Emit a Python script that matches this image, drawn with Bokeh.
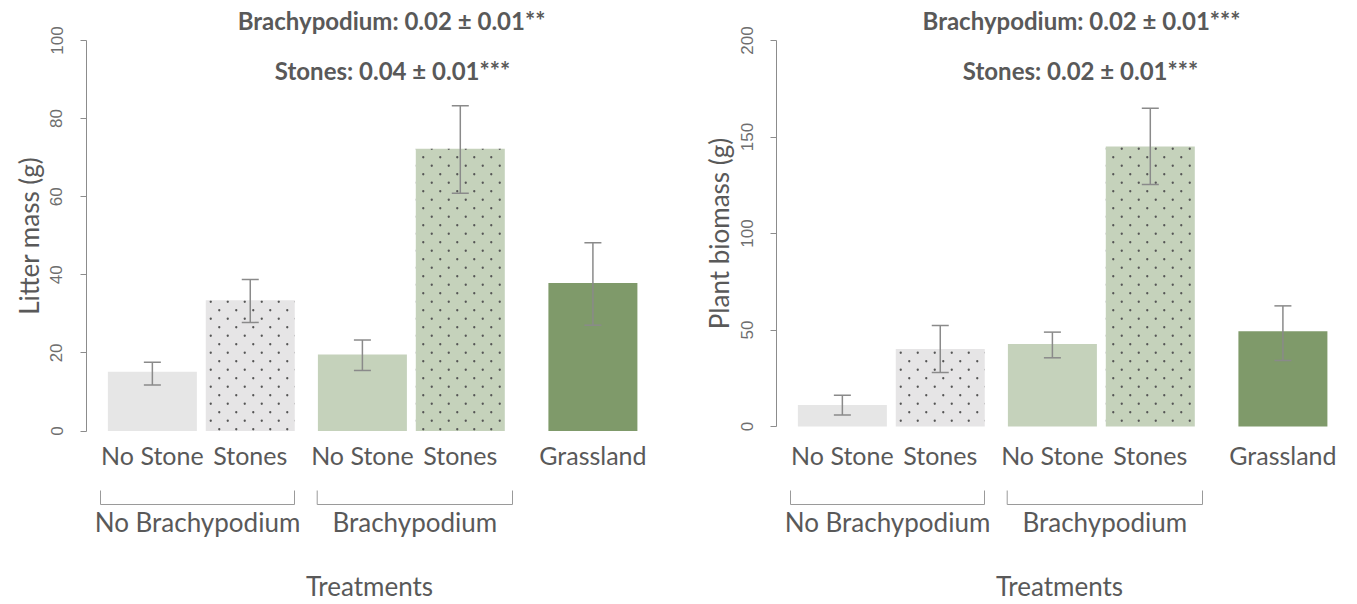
import math
import base64
from bokeh.plotting import figure
from bokeh.layouts import row
from bokeh.models import (Range1d, LinearAxis, SingleIntervalTicker, Whisker, TeeHead,
                          ColumnDataSource, ImageURLTexture)
from bokeh.embed import file_html
from bokeh.resources import INLINE
from bokeh.core.properties import value

# ---------------- data ----------------
treatments = ["No Stone", "Stones", "No Stone", "Stones", "Grassland"]
groups = ["No Brachypodium", "Brachypodium"]
x_title = "Treatments"

litter_mean = [15.2, 33.5, 19.6, 72.3, 37.9]
litter_lo = [11.8, 27.8, 15.5, 60.9, 27.1]
litter_hi = [17.6, 38.8, 23.3, 83.3, 48.2]
litter_notes = ["Brachypodium: 0.02 ± 0.01**", "Stones: 0.04 ± 0.01***"]

biomass_mean = [11.2, 40.2, 42.8, 145.1, 49.4]
biomass_lo = [6.0, 28.0, 35.6, 125.4, 34.2]
biomass_hi = [16.2, 52.3, 48.9, 164.9, 62.5]
biomass_notes = ["Brachypodium: 0.02 ± 0.01***", "Stones: 0.02 ± 0.01***"]

# ---------------- style / layout ----------------
fill_colors = ["#e6e6e6", "#e6e5e6", "#c5d2bb", "#c5d2bb", "#7f9a6a"]
hatches = [" ", "dots", " ", "dots", " "]
TXT = "#595959"
AXC = "#8c8c8c"
FONT = "Lato"

_tile = ("<svg xmlns='http://www.w3.org/2000/svg' width='17' height='17'>"
         "<circle cx='4.25' cy='4.25' r='1.15' fill='#555555'/>"
         "<circle cx='12.75' cy='12.75' r='1.15' fill='#555555'/></svg>")
DOT_URL = "data:image/svg+xml;base64," + base64.b64encode(_tile.encode()).decode()

BAR_PX = 89.0                      # pixels per x unit (one bar width)
gaps = [0.24, 0.10, 0.26, 0.10, 0.49]
lefts = []
acc = 0.0
for g in gaps:
    acc += g
    lefts.append(acc)
    acc += 1.0
centers = [l + 0.5 for l in lefts]

FIG_TOP = 0
FIG_H = 604
TITLE_W = 45
BORDER_L = 41


def make_panel(fig_left_win, fig_w, y0_win, ppu, ymax, step, means, lo, hi,
               ylabel, notes, note_pos):
    frame_left_win = fig_left_win + TITLE_W + BORDER_L

    def dx(wx):
        return (wx - frame_left_win) / BAR_PX

    def dy(wy):
        return (y0_win - wy) / ppu

    yr = (dy(FIG_TOP + FIG_H), dy(FIG_TOP))

    # title strip holding the rotated y-axis title
    t = figure(width=TITLE_W, height=FIG_H, output_backend="svg", toolbar_location=None,
               x_range=Range1d(0, TITLE_W), y_range=Range1d(*yr),
               min_border=0, x_axis_type=None, y_axis_type=None)
    t.outline_line_color = None
    t.xgrid.visible = False
    t.ygrid.visible = False
    t.text(x=[28], y=[ymax / 2], text=[ylabel], angle=math.pi / 2,
           text_font=value(FONT), text_font_size="26px", text_color=TXT,
           text_align="center", text_baseline="middle")

    frame_w = fig_w - TITLE_W - BORDER_L
    p = figure(width=fig_w - TITLE_W, height=FIG_H, output_backend="svg",
               toolbar_location=None,
               x_range=Range1d(0, frame_w / BAR_PX), y_range=Range1d(*yr),
               min_border_left=BORDER_L, min_border_right=0,
               min_border_top=0, min_border_bottom=0,
               x_axis_type=None, y_axis_type=None)
    p.outline_line_color = None
    p.xgrid.visible = False
    p.ygrid.visible = False

    ax = LinearAxis(ticker=SingleIntervalTicker(interval=step), bounds=(0, ymax))
    ax.axis_line_color = AXC
    ax.major_tick_line_color = AXC
    ax.major_tick_out = 6
    ax.major_tick_in = 0
    ax.minor_tick_line_color = None
    ax.major_label_orientation = "vertical"
    ax.major_label_standoff = 18
    ax.major_label_text_font = "Liberation Sans"
    ax.major_label_text_font_size = "17px"
    ax.major_label_text_color = "#6e6e6e"
    p.add_layout(ax, "left")

    src = ColumnDataSource(dict(x=centers, top=means, lo=lo, hi=hi,
                                color=fill_colors, hatch=hatches))
    p.vbar(x="x", top="top", bottom=0, width=1.0, source=src,
           fill_color="color", line_color=None,
           hatch_pattern="hatch",
           hatch_extra={"dots": ImageURLTexture(url=DOT_URL, repetition="repeat")})

    head = dict(size=17, line_color="#8a8a8a", line_width=1.5)
    p.add_layout(Whisker(source=src, base="x", lower="lo", upper="hi", level="overlay",
                         dimension="height", line_color="#8a8a8a", line_width=1.5,
                         upper_head=TeeHead(**head), lower_head=TeeHead(**head)))

    # category labels
    p.text(x=centers, y=[dy(454)] * len(centers), text=treatments,
           text_font=value(FONT), text_font_size="25px", text_color=TXT,
           text_align="center", text_baseline="middle")

    # group brackets (window offsets relative to frame left)
    bx = [(frame_left_win + 14, frame_left_win + 208),
          (frame_left_win + 230.7, frame_left_win + 426)]
    xs, ys = [], []
    for a, b in bx:
        xs.append([dx(a), dx(a), dx(b), dx(b)])
        ys.append([dy(490), dy(504), dy(504), dy(490)])
    p.multi_line(xs=xs, ys=ys, line_color="#9a9a9a", line_width=1)
    p.text(x=[dx((a + b) / 2) for a, b in bx], y=[dy(521)] * 2, text=groups,
           text_font=value(FONT), text_font_size="26px", text_color=TXT,
           text_align="center", text_baseline="middle")

    p.text(x=[dx(frame_left_win + 283)], y=[dy(585)], text=[x_title],
           text_font=value(FONT), text_font_size="26px", text_color=TXT,
           text_align="center", text_baseline="middle")

    # significance notes
    p.text(x=[dx(wx) for wx, wy in note_pos], y=[dy(wy) for wx, wy in note_pos],
           text=notes, text_font=value(FONT), text_font_size="24px",
           text_font_style="bold", text_color=TXT,
           text_align="center", text_baseline="middle")
    return [t, p]


left = make_panel(0, 690, 430.5, 3.905, 100, 20, litter_mean, litter_lo, litter_hi,
                  "Litter mass (g)", litter_notes, [(391, 20), (392, 70)])
right = make_panel(690, 667, 426, 1.93, 200, 50, biomass_mean, biomass_lo, biomass_hi,
                   "Plant biomass (g)", biomass_notes, [(1081, 20), (1080, 70)])

layout = row(*left, *right)
open("out.html", "w").write(file_html(layout, INLINE))
